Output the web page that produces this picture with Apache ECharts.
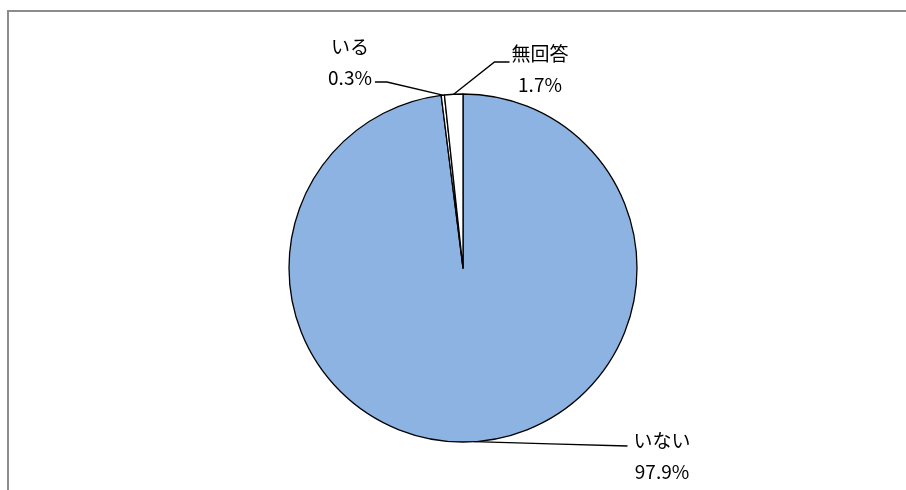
<!DOCTYPE html>
<html>
<head>
<meta charset="utf-8">
<script src="https://cdn.jsdelivr.net/npm/echarts@6/dist/echarts.min.js"></script>
<style>
html,body{margin:0;padding:0;background:#fff;}
#frame{position:absolute;left:7px;top:10px;width:1000px;height:600px;border:2px solid #8c8c8c;box-sizing:border-box;}
#chart{position:absolute;left:0;top:0;width:906px;height:490px;}
</style>
</head>
<body>
<div id="frame"></div>
<div id="chart"></div>
<script>
const categories = ['いない', 'いる', '無回答'];
const values = [97.9, 0.3, 1.7];
const colors = ['#8db3e2', '#ffffff', '#ffffff'];
// label block centres and leader-line styling (layout, not data)
const labelPos = [[662, 456], [350, 62], [540, 69]];
const CX = 463, CY = 268, R = 174;

const total = values.reduce((a, b) => a + b, 0);
function midAnchor(i) {
  let before = 0;
  for (let k = 0; k < i; k++) before += values[k];
  const ang = (before + values[i] / 2) / total * 2 * Math.PI;
  return [CX + R * Math.sin(ang), CY - R * Math.cos(ang)];
}

const chart = echarts.init(document.getElementById('chart'));
chart.setOption({
  animation: false,
  series: [{
    type: 'pie',
    center: [CX, CY],
    radius: R,
    startAngle: 90,
    clockwise: true,
    avoidLabelOverlap: false,
    data: categories.map((c, i) => ({ name: c, value: values[i], itemStyle: { color: colors[i] } })),
    itemStyle: { borderColor: '#000', borderWidth: 1.3 },
    label: {
      show: true,
      formatter: p => p.name + '\n' + p.value.toFixed(1) + '%',
      fontFamily: 'Noto Sans CJK JP',
      fontSize: 19,
      lineHeight: 31,
      color: '#000',
      align: 'center'
    },
    labelLine: { show: true, lineStyle: { color: '#000', width: 1.4 }, length: 20, length2: 20 },
    labelLayout: function (params) {
      const i = params.dataIndex;
      const p = labelPos[i];
      const w = params.labelRect.width;
      const left = p[0] - w / 2, right = p[0] + w / 2;
      const a = midAnchor(i);
      let pts;
      if (i === 0) {
        const end = [left - 6, p[1] - 10];
        pts = [a, [(a[0] + end[0]) / 2, (a[1] + end[1]) / 2], end];
      } else if (i === 1) {
        const end = [right + 3, p[1] + 20];
        pts = [a, [end[0] + 12, end[1]], end];
      } else {
        const end = [left - 2, p[1] - 7];
        pts = [a, [end[0] - 15, end[1]], end];
      }
      return { x: p[0], y: p[1], align: 'center', verticalAlign: 'middle', labelLinePoints: pts };
    }
  }]
});
</script>
</body>
</html>
